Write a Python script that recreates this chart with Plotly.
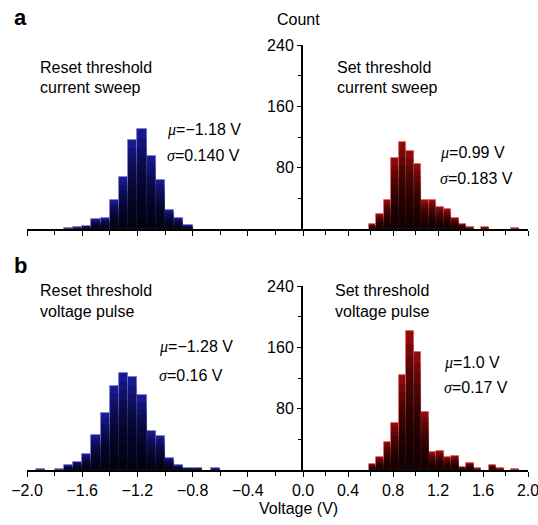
import plotly.graph_objects as go

# ---------------- data ----------------
BIN_WIDTH = 0.0667

reset_sweep_v = [-1.700, -1.633, -1.567, -1.500, -1.433, -1.367, -1.300, -1.233,
                 -1.167, -1.100, -1.033, -0.967, -0.900, -0.833]
reset_sweep_n = [1, 2, 4, 13, 14, 38, 68, 116, 130, 95, 64, 25, 14, 5]

set_sweep_v = [0.617, 0.683, 0.750, 0.817, 0.883, 0.950, 1.017, 1.083, 1.150,
               1.217, 1.283, 1.350, 1.417, 1.483, 1.617, 1.883]
set_sweep_n = [6, 20, 38, 92, 114, 102, 85, 38, 38, 29, 26, 15, 7, 2, 2, 1]

reset_pulse_v = [-1.900, -1.767, -1.700, -1.633, -1.567, -1.500, -1.433, -1.367,
                 -1.300, -1.233, -1.167, -1.100, -1.033, -0.967, -0.900, -0.833,
                 -0.767, -0.633]
reset_pulse_n = [1, 1, 6, 11, 21, 46, 74, 110, 126, 121, 98, 51, 44, 16, 6, 3, 3, 2]

set_pulse_v = [0.617, 0.683, 0.750, 0.817, 0.883, 0.950, 1.017, 1.083, 1.150,
               1.217, 1.283, 1.350, 1.417, 1.483, 1.550, 1.683, 1.750, 1.883]
set_pulse_n = [8, 17, 37, 61, 124, 181, 154, 76, 23, 25, 17, 18, 4, 9, 2, 7, 2, 1]

neg_ticks = [-2.0, -1.6, -1.2, -0.8, -0.4]
pos_ticks = [0.0, 0.4, 0.8, 1.2, 1.6, 2.0]
count_ticks = [0, 80, 160, 240]
count_labels = ["", "80", "160", "240"]

# ---------------- layout geometry ----------------
W, H = 538, 525
FONT = "Arial, Liberation Sans, Helvetica, sans-serif"
SERIF = "Liberation Serif, Times New Roman, serif"


def px(x):
    return x / W


def py(y):
    return 1 - y / H


X_LEFT = [px(27), px(303)]
X_RIGHT = [px(303), px(528)]
Y_TOP = [py(229), py(45)]
Y_BOT = [py(470), py(286)]

fig = go.Figure()

BLUE = "rgb(24,24,145)"
BLUE_EDGE = "rgba(120,120,215,0.95)"
RED = "rgb(140,10,10)"
RED_EDGE = "rgba(225,95,95,0.95)"
N_LAYERS = 10


def add_hist(v, n, xa, ya, color, edge):
    fig.add_trace(go.Bar(
        x=v, y=n, width=BIN_WIDTH, xaxis=xa, yaxis=ya,
        marker=dict(color=color, line=dict(color=edge, width=0.8)),
        showlegend=False, hoverinfo="x+y"))
    # darkening toward the bottom of each bar (vertical gradient effect)
    for k in range(1, N_LAYERS + 1):
        frac = k / (N_LAYERS + 1)
        fig.add_trace(go.Bar(
            x=v, y=[c * frac for c in n], width=BIN_WIDTH, xaxis=xa, yaxis=ya,
            marker=dict(color="rgba(0,0,0,0.17)", line=dict(width=0)),
            showlegend=False, hoverinfo="skip"))


add_hist(reset_sweep_v, reset_sweep_n, "x", "y", BLUE, BLUE_EDGE)
add_hist(set_sweep_v, set_sweep_n, "x2", "y2", RED, RED_EDGE)
add_hist(reset_pulse_v, reset_pulse_n, "x3", "y3", BLUE, BLUE_EDGE)
add_hist(set_pulse_v, set_pulse_n, "x4", "y4", RED, RED_EDGE)

tickfont = dict(family=FONT, size=16, color="black")


def xaxis_cfg(domain, rng, tv, anchor, labels):
    return dict(
        domain=domain, range=rng, anchor=anchor, automargin=False,
        showline=True, linecolor="black", linewidth=1.5,
        ticks="outside", ticklen=5, tickwidth=1.2, tickcolor="black",
        tickmode="array", tickvals=tv, tickformat=".1f",
        showticklabels=labels, tickfont=tickfont, ticklabeloverflow="allow",
        minor=dict(dtick=0.2, tick0=0, ticks="outside", ticklen=4,
                   tickwidth=1.2, tickcolor="black"),
        showgrid=False, zeroline=False, fixedrange=True)


def yaxis_hidden(domain, anchor):
    return dict(domain=domain, range=[0, 240], anchor=anchor, visible=False,
                automargin=False, fixedrange=True)


def yaxis_cfg(domain, anchor):
    return dict(
        domain=domain, range=[0, 240], anchor=anchor, automargin=False,
        showline=True, linecolor="black", linewidth=2,
        ticks="outside", ticklen=4, tickwidth=1.2, tickcolor="black",
        tickmode="array", tickvals=count_ticks, ticktext=count_labels,
        tickfont=tickfont, ticklabeloverflow="allow",
        minor=dict(dtick=40, tick0=0, ticks="outside", ticklen=3,
                   tickwidth=1.2, tickcolor="black"),
        showgrid=False, zeroline=False, fixedrange=True)


fig.update_layout(
    template="none",
    width=W, height=H,
    margin=dict(l=0, r=0, t=0, b=0, pad=0),
    paper_bgcolor="white", plot_bgcolor="rgba(0,0,0,0)",
    barmode="overlay", bargap=0,
    showlegend=False,
    xaxis=xaxis_cfg(X_LEFT, [-2, 0], neg_ticks, "y", False),
    yaxis=yaxis_hidden(Y_TOP, "x"),
    xaxis2=xaxis_cfg(X_RIGHT, [0, 2], pos_ticks, "y2", False),
    yaxis2=yaxis_cfg(Y_TOP, "x2"),
    xaxis3=xaxis_cfg(X_LEFT, [-2, 0], neg_ticks, "y3", True),
    yaxis3=yaxis_hidden(Y_BOT, "x3"),
    xaxis4=xaxis_cfg(X_RIGHT, [0, 2], pos_ticks, "y4", True),
    yaxis4=yaxis_cfg(Y_BOT, "x4"),
)

anns = []


def text(x, y, s, size=16, xanchor="left", bold=False):
    anns.append(dict(
        x=px(x), y=py(y), xref="paper", yref="paper", text=(f"<b>{s}</b>" if bold else s),
        showarrow=False, xanchor=xanchor, yanchor="middle", align="left",
        font=dict(family=FONT, size=size, color="black")))


def mu(v):
    return f'<span style="font-family:{SERIF}"><i>μ</i></span>={v}'


def sigma(v):
    return f'<span style="font-family:{SERIF}"><i>σ</i></span>={v}'


text(12, 18, "a", size=22, bold=True)
text(12, 265, "b", size=22, bold=True)
text(298, 20, "Count", xanchor="center")
text(298, 508, "Voltage (V)", xanchor="center")

text(38, 68, "Reset threshold")
text(38, 88, "current sweep")
text(335, 68, "Set threshold")
text(335, 88, "current sweep")
text(38, 290, "Reset threshold")
text(38, 311, "voltage pulse")
text(333, 290, "Set threshold")
text(333, 311, "voltage pulse")

text(165, 130, mu("−1.18 V"))
text(165, 155, sigma("0.140 V"))
text(438, 153, mu("0.99 V"))
text(438, 179, sigma("0.183 V"))
text(157, 347, mu("−1.28 V"))
text(157, 375, sigma("0.16 V"))
text(442, 363, mu("1.0 V"))
text(442, 387, sigma("0.17 V"))

fig.update_layout(annotations=anns)

fig.write_html(
    "out.html",
    config={"displayModeBar": False},
    post_script="document.body.style.margin='0px';document.body.style.padding='0px';",
)
